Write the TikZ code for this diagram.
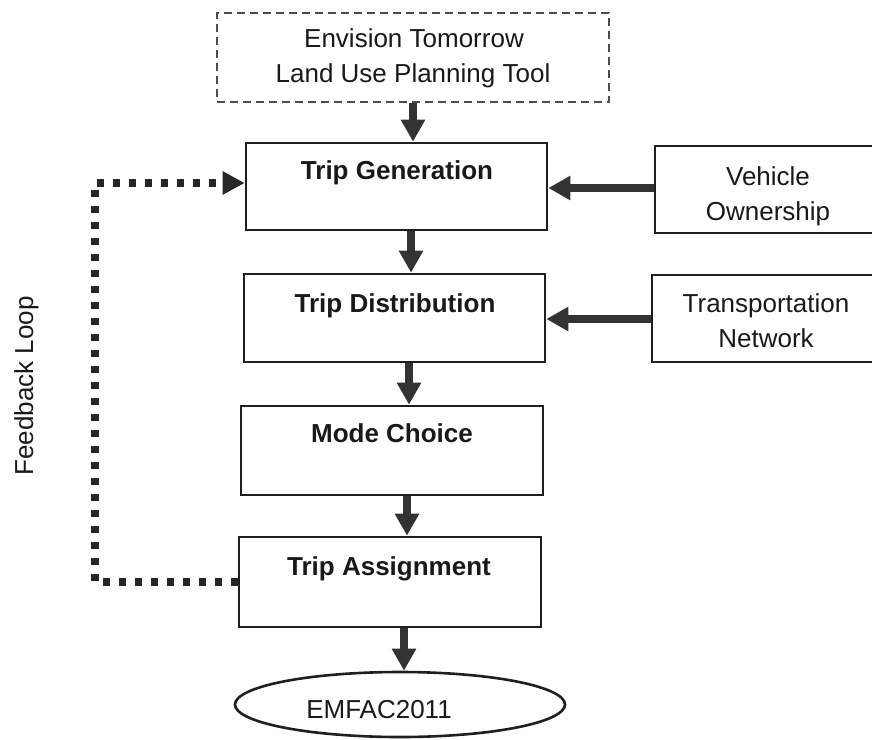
\documentclass[tikz,border=0pt]{standalone}
\usepackage{fontspec}
\setmainfont{Liberation Sans}
\usetikzlibrary{arrows.meta,shapes.geometric}
\begin{document}
\begin{tikzpicture}[x=1pt,y=-1pt,
  box/.style={draw=black!88, line width=2.6pt, rectangle, inner sep=0pt},
  dbox/.style={draw=black!70, line width=1.3pt, dash pattern=on 8pt off 5pt, rectangle, inner sep=0pt},
  txt/.style={font=\fontsize{26}{32}\selectfont, text=black!90, inner sep=0pt, anchor=base},
  btxt/.style={txt, font=\fontsize{26}{32}\selectfont\bfseries},
  arr/.style={draw=black!80, fill=black!80, line width=8pt, -{Triangle[length=22pt,width=23pt]}},
  fb/.style={draw=black!85, line width=7.5pt, dash pattern=on 7pt off 9pt, -{Triangle[length=22pt,width=22pt]}}
]
\path[use as bounding box] (0,0) rectangle (872,739);
\clip (0,0) rectangle (872,739);

% boxes
\node[dbox, minimum width=392pt, minimum height=89pt] (env) at (413,57.5) {};
\node[box, minimum width=301pt, minimum height=87pt] (tg) at (396.5,186.5) {};
\node[box, minimum width=301pt, minimum height=88pt] (td) at (394.5,318) {};
\node[box, minimum width=302pt, minimum height=89pt] (mc) at (392,450.5) {};
\node[box, minimum width=302pt, minimum height=90pt] (ta) at (390,582) {};
\node[box, minimum width=235pt, minimum height=87pt] (vo) at (772.5,189.5) {};
\node[box, minimum width=238pt, minimum height=87pt] (tn) at (771,318.5) {};
\node[draw=black!88, line width=2.6pt, ellipse, inner sep=0pt, minimum width=330pt, minimum height=65pt] (em) at (400,704.5) {};

% texts
\node[txt] (t1) at (414,47) {Envision Tomorrow};
\node[txt] (t2) at (413,82) {Land Use Planning Tool};
\node[btxt] (t3) at (397,179) {Trip Generation};
\node[btxt] (t4) at (395,312) {Trip Distribution};
\node[btxt] (t5) at (392,442) {Mode Choice};
\node[btxt] (t6) at (389,575) {Trip Assignment};
\node[txt] (t7) at (768,185) {Vehicle};
\node[txt] (t8) at (768,220) {Ownership};
\node[txt] (t9) at (766,312) {Transportation};
\node[txt] (t10) at (766,347) {Network};
\node[txt] (t11) at (379,718) {EMFAC2011};
\node[txt, rotate=90] (t12) at (33,386) {Feedback Loop};

% arrow columns / rows
\coordinate (c1) at (413,0);
\coordinate (c2) at (411,0);
\coordinate (c3) at (409,0);
\coordinate (c4) at (407,0);
\coordinate (c5) at (404,0);
\coordinate (r1) at (0,188);
\coordinate (r2) at (0,319);

\draw[arr] (env.south -| c1) -- (tg.north -| c1);
\draw[arr] (tg.south -| c2) -- (td.north -| c2);
\draw[arr] (td.south -| c3) -- (mc.north -| c3);
\draw[arr] (mc.south -| c4) -- (ta.north -| c4);
\draw[arr] (ta.south -| c5) -- (em.north -| c5);
\draw[arr] (vo.west |- r1) -- (tg.east |- r1);
\draw[arr] (tn.west |- r2) -- (td.east |- r2);

% feedback loop
\coordinate (fbb) at (95,582);
\coordinate (fbt) at (95,183);
\draw[fb] (ta.west) -- (fbb) -- (fbt) -- (tg.west |- fbt);
\end{tikzpicture}
\end{document}
